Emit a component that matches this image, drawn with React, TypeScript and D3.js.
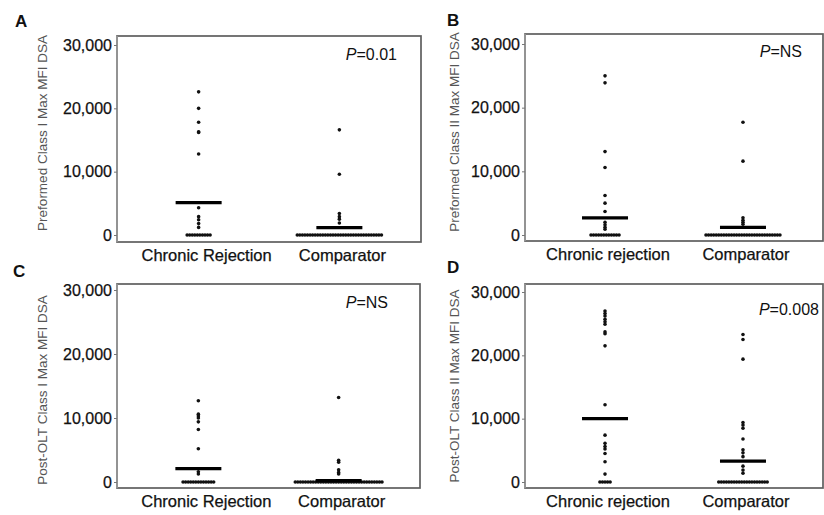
import React, { useEffect, useRef } from 'react';
import * as d3 from 'd3';

// values (MFI)
const categoriesAC = ['Chronic Rejection', 'Comparator'];
const categoriesBD = ['Chronic rejection', 'Comparator'];
const yTicks = [0, 10000, 20000, 30000];

const chronicA = [22600, 20000, 17800, 16300, 16200, 12800, 4300, 2900, 2400, 1800, 1200,
  0, 0, 0, 0, 0, 0, 0, 0, 0, 0];
const comparatorA = [16600, 9600, 3400, 2900, 2500, 1900,
  0, 0, 0, 0, 0, 0, 0, 0, 0, 0, 0, 0, 0, 0, 0, 0, 0, 0, 0, 0, 0, 0, 0, 0, 0, 0, 0, 0, 0, 0, 0, 0, 0, 0];
const meansA = [5100, 1150];

const chronicB = [25000, 23900, 13100, 10600, 6200, 5000, 3700, 2000, 1600, 1200, 900,
  0, 0, 0, 0, 0, 0, 0, 0, 0, 0, 0, 0];
const comparatorB = [17700, 11600, 2700, 2300, 2000, 1700,
  0, 0, 0, 0, 0, 0, 0, 0, 0, 0, 0, 0, 0, 0, 0, 0, 0, 0, 0, 0, 0, 0, 0, 0, 0, 0, 0, 0, 0, 0];
const meansB = [2700, 1200];

const chronicC = [12700, 10600, 10300, 10000, 9400, 8200, 5200, 1600, 1250,
  0, 0, 0, 0, 0, 0, 0, 0, 0, 0, 0, 0, 0];
const comparatorC = [13200, 3400, 3100, 1900, 1500, 1250,
  0, 0, 0, 0, 0, 0, 0, 0, 0, 0, 0, 0, 0, 0, 0, 0, 0, 0, 0, 0, 0, 0, 0, 0, 0, 0, 0, 0, 0, 0, 0, 0, 0, 0, 0];
const meansC = [2100, 200];

const chronicD = [27000, 26600, 26200, 25700, 25300, 24900, 23700, 23400, 21500, 12200, 7400, 6100,
  5600, 5200, 4500, 3200, 1250, 0, 0, 0, 0, 0];
const comparatorD = [23300, 22500, 19400, 9400, 9000, 8500, 6800, 5100, 4600, 4000, 2500, 1900, 1400,
  0, 0, 0, 0, 0, 0, 0, 0, 0, 0, 0, 0, 0, 0, 0, 0, 0, 0, 0, 0];
const meansD = [10000, 3300];

const panels = [
  { letter: 'A', cats: categoriesAC, series: [chronicA, comparatorA], means: meansA, p: '0.01',
    yLabel: 'Preformed Class I Max MFI DSA',
    box: { x0: 117, x1: 421, y0: 36, y1: 242, zero: 235, top: 45 }, letterPos: [15, 27], pPos: [397, 60], yLabelPos: [47, 133] },
  { letter: 'B', cats: categoriesBD, series: [chronicB, comparatorB], means: meansB, p: 'NS',
    yLabel: 'Preformed Class II Max MFI DSA',
    box: { x0: 525, x1: 823, y0: 34, y1: 241, zero: 235, top: 44 }, letterPos: [447, 26], pPos: [802, 57], yLabelPos: [459, 132] },
  { letter: 'C', cats: categoriesAC, series: [chronicC, comparatorC], means: meansC, p: 'NS',
    yLabel: 'Post-OLT Class I Max MFI DSA',
    box: { x0: 117, x1: 420, y0: 284, y1: 488, zero: 482, top: 290 }, letterPos: [13, 277], pPos: [388, 308], yLabelPos: [47, 390] },
  { letter: 'D', cats: categoriesBD, series: [chronicD, comparatorD], means: meansD, p: '0.008',
    yLabel: 'Post-OLT Class II Max MFI DSA',
    box: { x0: 525, x1: 823, y0: 284, y1: 488, zero: 482, top: 292 }, letterPos: [447, 273], pPos: [819, 315], yLabelPos: [459, 386] },
];

const FONT = '"Liberation Sans", Arial, sans-serif';

export default function App() {
  const ref = useRef<SVGSVGElement>(null);

  useEffect(() => {
    const svg = d3.select(ref.current);
    svg.selectAll('*').remove();

    panels.forEach(pn => {
      const b = pn.box;
      const g = svg.append('g');
      const x = d3.scalePoint().domain(pn.cats).range([b.x0, b.x1]).padding(0.58);
      const y = d3.scaleLinear().domain([0, 30000]).range([b.zero, b.top]);

      // frame, left side lighter like the original axis
      g.append('rect')
        .attr('x', b.x0).attr('y', b.y0)
        .attr('width', b.x1 - b.x0).attr('height', b.y1 - b.y0)
        .attr('fill', 'none').attr('stroke', '#5e5e5e').attr('stroke-width', 1.7);
      g.append('line')
        .attr('x1', b.x0).attr('x2', b.x0).attr('y1', b.y0).attr('y2', b.y1)
        .attr('stroke', '#999').attr('stroke-width', 1.7);

      // y axis
      const ax = g.append('g')
        .attr('transform', `translate(${b.x0},0)`)
        .call(d3.axisLeft(y).tickValues(yTicks).tickFormat(d3.format(',')).tickSize(3).tickPadding(2));
      ax.select('.domain').remove();
      ax.selectAll('line').attr('stroke', '#777');
      ax.selectAll('text').attr('font-family', FONT).attr('font-size', 16).attr('fill', '#111')
        .attr('stroke', '#111').attr('stroke-width', 0.25);

      // x labels
      g.selectAll('.cat')
        .data(pn.cats)
        .join('text')
        .attr('class', 'cat')
        .attr('x', (d, i) => x(d)! + (i === 0 && pn.cats === categoriesAC ? 8 : 3))
        .attr('y', b.y1 + 19)
        .attr('text-anchor', 'middle')
        .attr('font-family', FONT).attr('font-size', 16.5).attr('fill', '#111')
        .attr('stroke', '#111').attr('stroke-width', 0.25)
        .text(d => d);

      // dots, ties spread sideways
      pn.series.forEach((vals, i) => {
        const cx = x(pn.cats[i])!;
        const groups = d3.groups(vals, v => v);
        const pts: { v: number; dx: number }[] = [];
        groups.forEach(([v, arr]) => {
          arr.forEach((_, k) => pts.push({ v, dx: (k - (arr.length - 1) / 2) * 2.55 }));
        });
        g.append('g')
          .selectAll('circle')
          .data(pts)
          .join('circle')
          .attr('cx', d => cx + d.dx)
          .attr('cy', d => y(d.v))
          .attr('r', 1.8)
          .attr('fill', '#111');

        g.append('line')
          .attr('x1', cx - 23).attr('x2', cx + 23)
          .attr('y1', y(pn.means[i])).attr('y2', y(pn.means[i]))
          .attr('stroke', '#000').attr('stroke-width', 3.2);
      });

      // y label
      g.append('text')
        .attr('transform', `translate(${pn.yLabelPos[0]},${pn.yLabelPos[1]}) rotate(-90)`)
        .attr('text-anchor', 'middle')
        .attr('font-family', FONT).attr('font-size', 13.5).attr('fill', '#555')
        .text(pn.yLabel);

      // panel letter
      g.append('text')
        .attr('x', pn.letterPos[0]).attr('y', pn.letterPos[1])
        .attr('font-family', FONT).attr('font-size', 17).attr('font-weight', 'bold').attr('fill', '#111')
        .text(pn.letter);

      // p value
      const pt = g.append('text')
        .attr('x', pn.pPos[0]).attr('y', pn.pPos[1])
        .attr('text-anchor', 'end')
        .attr('font-family', FONT).attr('font-size', 16).attr('fill', '#111');
      pt.append('tspan').attr('font-style', 'italic').text('P');
      pt.append('tspan').text('=' + pn.p);
    });
  }, []);

  return (
    <svg ref={ref} width={824} height={515}
      style={{ position: 'absolute', left: 0, top: 0, background: '#fff' }} />
  );
}
